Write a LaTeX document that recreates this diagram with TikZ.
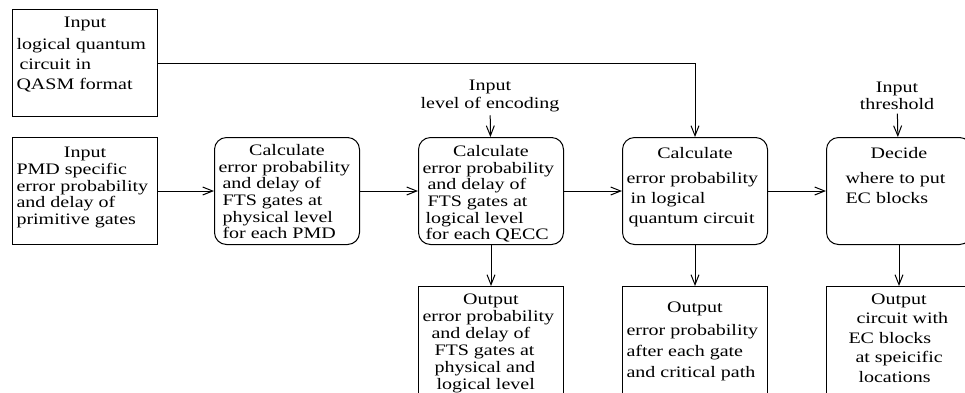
\documentclass[tikz,border=0pt]{standalone}
\usepackage{fontspec}
\setmainfont{Liberation Serif}[FakeStretch=1.25]
\usetikzlibrary{arrows.meta}

% box text: title centred, lines flush left
\newcommand{\boxtxt}[3][16.6pt]{\parbox[t][87pt][t]{137pt}{\setlength{\baselineskip}{#1}\centering #2\par\raggedright #3}}

\tikzset{
  blk/.style={draw, line width=1pt, anchor=north west, minimum width=145pt, minimum height=107pt, inner xsep=4pt, inner ysep=0pt},
  rblk/.style={blk, rounded corners=12pt},
  flow/.style={line width=1pt, -{Straight Barb[length=10pt,width=8pt]}},
}

\begin{document}
\begin{tikzpicture}[x=1pt,y=-1pt,every node/.style={font=\fontsize{16}{17.5}\selectfont}]
        \useasboundingbox (0,0) rectangle (965,392);
        % inputs
        \node[blk] (qasm) at (12,9) {\boxtxt[20pt]{\vspace*{-2pt}Input}{\vspace{2pt}logical quantum\\\hspace*{3pt}circuit in\\QASM format}};
        \node[blk] (pmd) at (12,137) {\boxtxt{Input}{PMD specific\\error probability\\and delay of\\primitive gates}};
        \node[align=center] (enc) at (490,96) {Input\\level of encoding};
        \node[align=center] (thr) at (897,96) {Input\\threshold};
        % calculation steps
        \node[rblk] (phys) at (214,137) {\boxtxt{\vspace*{-3pt}Calculate}{error probability\\\hspace*{4pt}and delay of\\\hspace*{4pt}FTS gates at\\\hspace*{4pt}physical level\\\hspace*{4pt}for each PMD}};
        \node[rblk] (logi) at (418,137) {\boxtxt{\vspace*{-2pt}Calculate}{error probability\\\hspace*{5pt}and delay of\\\hspace*{5pt}FTS gates at\\\hspace*{3pt}logical level\\\hspace*{3pt}for each QECC}};
        \node[rblk] (circ) at (622,137) {\boxtxt[20pt]{Calculate}{\vspace{5pt}error probability\\\hspace*{4pt}in logical\\\hspace*{2pt}quantum circuit}};
        \node[rblk] (dec) at (826,137) {\boxtxt[20pt]{Decide}{\vspace{5pt}\hspace*{15pt}where to put\\\hspace*{15pt}EC blocks}};
        % outputs
        \node[blk] (out1) at (418,286) {\boxtxt[17pt]{\vspace*{-3pt}Output}{error probability\\\hspace*{9pt}and delay of\\\hspace*{12pt}FTS gates at\\\hspace*{12pt}physical and\\\hspace*{14pt}logical level}};
        \node[blk] (out2) at (622,286) {\boxtxt[21pt]{\vspace*{5pt}Output}{\vspace{2pt}error probability\\after each gate\\and critical path}};
        \node[blk] (out3) at (826,286) {\boxtxt[19.5pt]{\vspace*{-3pt}Output}{\hspace*{26pt}circuit with\\\hspace*{18pt}EC blocks\\\hspace*{25pt}at speicific\\\hspace*{28pt}locations}};
        % connectors
        \draw[flow] (pmd) -- (phys);
        \draw[flow] (phys) -- (logi);
        \draw[flow] (logi) -- (circ);
        \draw[flow] (circ) -- (dec);
        \draw[flow] (enc) -- (logi);
        \draw[flow] (thr) -- (dec);
        \draw[flow] (qasm.east) -| (circ.north);
        \draw[flow] (logi) -- (out1);
        \draw[flow] (circ) -- (out2);
        \draw[flow] (dec) -- (out3);
\end{tikzpicture}
\end{document}
